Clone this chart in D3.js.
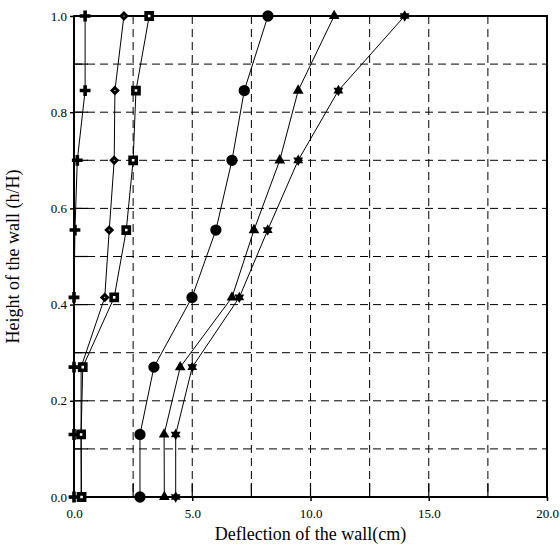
<!DOCTYPE html>
<html>
<head>
<meta charset="utf-8">
<script src="https://cdn.jsdelivr.net/npm/d3@7"></script>
<style>
  body { margin: 0; background: #fff; }
  svg { display: block; }
  text { font-family: 'Liberation Serif', 'Times New Roman', serif; fill: #000; }
</style>
</head>
<body>
<div id="chart"></div>
<script>
// data
var heights = [0, 0.13, 0.27, 0.415, 0.555, 0.70, 0.845, 1.0];
var plusSeries = [0.0, 0.0, 0.0, 0.0, 0.04, 0.14, 0.47, 0.47];
var diamondSeries = [0.3, 0.3, 0.3, 1.3, 1.49, 1.70, 1.73, 2.11];
var squareSeries = [0.32, 0.3, 0.37, 1.70, 2.21, 2.5, 2.62, 3.18];
var circleSeries = [2.79, 2.79, 3.38, 4.99, 6.0, 6.68, 7.2, 8.2];
var triangleSeries = [3.82, 3.81, 4.49, 6.68, 7.61, 8.7, 9.48, 11.0];
var starSeries = [4.3, 4.3, 5.0, 6.99, 8.19, 9.48, 11.18, 13.98];

var xTicks = [0, 5, 10, 15, 20];
var yTicks = [0, 0.2, 0.4, 0.6, 0.8, 1.0];
var xGrid = [2.5, 5, 7.5, 10, 12.5, 15, 17.5];
var yGrid = [0.1, 0.2, 0.3, 0.4, 0.5, 0.6, 0.7, 0.8, 0.9];

var svgWidth = 560, svgHeight = 545;
var margin = {top: 16, right: 13, bottom: 48, left: 74};
var chartWidth = svgWidth - margin.left - margin.right;
var chartHeight = svgHeight - margin.top - margin.bottom;

var svg = d3.select('#chart').append('svg')
  .attr('width', svgWidth)
  .attr('height', svgHeight);

var chartGroup = svg.append('g')
  .attr('transform', `translate(${margin.left}, ${margin.top})`);

var x = d3.scaleLinear().domain([0, 20]).range([0, chartWidth]);
var y = d3.scaleLinear().domain([0, 1]).range([chartHeight, 0]);

// dashed grid
chartGroup.selectAll('.vgrid').data(xGrid).enter().append('line')
  .attr('x1', d => x(d)).attr('x2', d => x(d))
  .attr('y1', 0).attr('y2', chartHeight)
  .attr('stroke', '#000').attr('stroke-width', 1)
  .attr('stroke-dasharray', '8,5');
chartGroup.selectAll('.hgrid').data(yGrid).enter().append('line')
  .attr('x1', 0).attr('x2', chartWidth)
  .attr('y1', d => y(d)).attr('y2', d => y(d))
  .attr('stroke', '#000').attr('stroke-width', 1)
  .attr('stroke-dasharray', '8,5');

// inner ticks at every grid position
chartGroup.selectAll('.xtin').data(xGrid).enter().append('line')
  .attr('x1', d => x(d)).attr('x2', d => x(d))
  .attr('y1', chartHeight).attr('y2', chartHeight - 14)
  .attr('stroke', '#000').attr('stroke-width', 1.2);
chartGroup.selectAll('.ytin').data(yGrid).enter().append('line')
  .attr('x1', 0).attr('x2', 14)
  .attr('y1', d => y(d)).attr('y2', d => y(d))
  .attr('stroke', '#000').attr('stroke-width', 1.2);

// axes with short outward ticks and labels
var bottomAxis = d3.axisBottom(x).tickValues(xTicks).tickSize(4).tickPadding(8)
  .tickFormat(d3.format('.1f'));
var leftAxis = d3.axisLeft(y).tickValues(yTicks).tickSize(4).tickPadding(3)
  .tickFormat(d3.format('.1f'));

var xAxis = chartGroup.append('g')
  .attr('transform', `translate(0, ${chartHeight})`)
  .call(bottomAxis);
var yAxis = chartGroup.append('g').call(leftAxis);

[xAxis, yAxis].forEach(function(ax) {
  ax.select('.domain').remove();
  ax.selectAll('line').attr('stroke-width', 1.5);
  ax.selectAll('text')
    .attr('font-family', "'Liberation Serif', 'Times New Roman', serif")
    .attr('font-size', '13px');
});

// frame
chartGroup.append('rect')
  .attr('x', 0).attr('y', 0)
  .attr('width', chartWidth).attr('height', chartHeight)
  .attr('fill', 'none').attr('stroke', '#000').attr('stroke-width', 2);

// 6-point star symbol
var hexagram = {
  draw: function(context, size) {
    var r = Math.sqrt(size / 1.3);
    for (var t = 0; t < 2; t++) {
      for (var i = 0; i < 3; i++) {
        var a = (i * 120 + t * 60 - 90) * Math.PI / 180;
        var px = r * Math.cos(a), py = r * Math.sin(a);
        if (i === 0) context.moveTo(px, py); else context.lineTo(px, py);
      }
      context.closePath();
    }
  }
};

// square rotated 45deg (equal width and height)
var rhombus = {
  draw: function(context, size) {
    var r = Math.sqrt(size / 2);
    context.moveTo(0, -r);
    context.lineTo(r, 0);
    context.lineTo(0, r);
    context.lineTo(-r, 0);
    context.closePath();
  }
};

var seriesList = [
  {values: plusSeries, symbol: d3.symbolCross, size: 65, fill: '#000', stroke: 'none'},
  {values: diamondSeries, symbol: rhombus, size: 16, fill: '#fff', stroke: '#000', sw: 3},
  {values: squareSeries, symbol: d3.symbolSquare, size: 38, fill: '#fff', stroke: '#000', sw: 3.6},
  {values: circleSeries, symbol: d3.symbolCircle, size: 100, fill: '#000', stroke: 'none'},
  {values: triangleSeries, symbol: d3.symbolTriangle, size: 50, fill: '#000', stroke: 'none'},
  {values: starSeries, symbol: hexagram, size: 42, fill: '#000', stroke: 'none'}
];

var line = d3.line().x(d => x(d[0])).y(d => y(d[1]));

seriesList.forEach(function(s) {
  var pts = s.values.map((v, i) => [v, heights[i]]);
  chartGroup.append('path')
    .attr('d', line(pts))
    .attr('fill', 'none').attr('stroke', '#000').attr('stroke-width', 1);
});

seriesList.forEach(function(s) {
  var pts = s.values.map((v, i) => [v, heights[i]]);
  chartGroup.selectAll(null).data(pts).enter().append('path')
    .attr('transform', d => `translate(${x(d[0])}, ${y(d[1])})`)
    .attr('d', d3.symbol().type(s.symbol).size(s.size))
    .attr('fill', s.fill)
    .attr('stroke', s.stroke)
    .attr('stroke-width', s.sw || 0);
});

// axis titles
svg.append('text')
  .attr('x', margin.left + chartWidth / 2)
  .attr('y', 540)
  .attr('text-anchor', 'middle')
  .attr('font-size', '18px')
  .text('Deflection of the wall(cm)');

svg.append('text')
  .attr('transform', `translate(19, ${margin.top + chartHeight / 2}) rotate(-90)`)
  .attr('text-anchor', 'middle')
  .attr('font-size', '18px')
  .text('Height of the wall (h/H)');
</script>
</body>
</html>
